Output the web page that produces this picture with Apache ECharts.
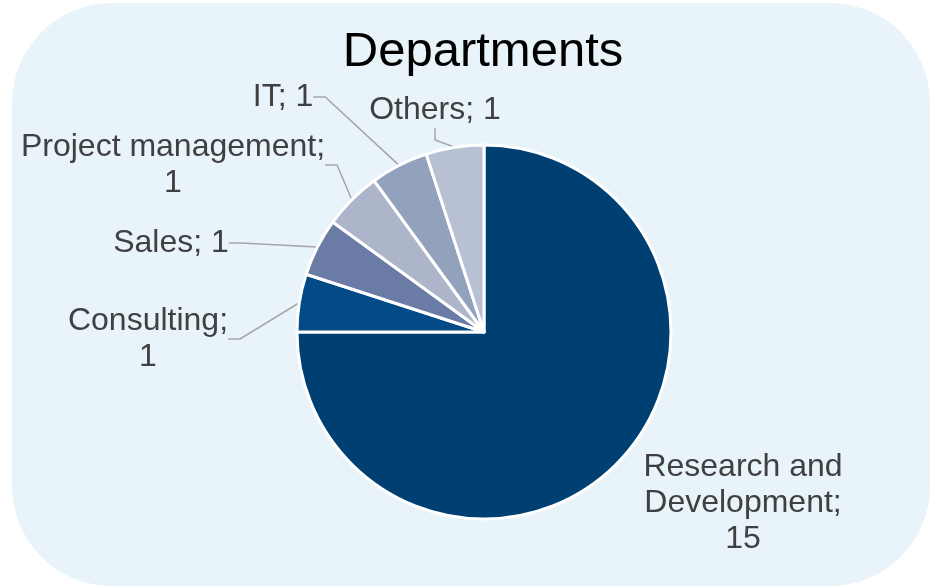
<!DOCTYPE html>
<html>
<head>
<meta charset="utf-8">
<script src="https://cdn.jsdelivr.net/npm/echarts@6/dist/echarts.min.js"></script>
<style>
  html, body { margin: 0; padding: 0; background: #ffffff; }
  #chart { width: 932px; height: 587px; }
</style>
</head>
<body>
<div id="chart"></div>
<script>
// Headcount by department
const departments = ['Research and Development', 'Consulting', 'Sales', 'Project management', 'IT', 'Others'];
const headcounts = [15, 1, 1, 1, 1, 1];
const sliceColors = ['#003f72', '#024b87', '#6a7ba6', '#adb5cb', '#93a2bc', '#b8c0d3'];

// How each label wraps: department name text and whether the value goes on its own line
const nameLines = ['Research and\nDevelopment', 'Consulting', 'Sales', 'Project management', 'IT', 'Others'];
const valueOnOwnLine = [true, true, false, true, false, false];

// Where each label sits (label centre, px)
const labelSpots = [
  [743, 503],
  [148, 339],
  [171, 243],
  [173, 165],
  [283, 97],
  [435, 110]
];

const chart = echarts.init(document.getElementById('chart'), null, { renderer: 'canvas' });

chart.setOption({
  backgroundColor: '#ffffff',
  animation: false,
  graphic: [{
    type: 'rect',
    z: -10,
    silent: true,
    shape: { x: 12, y: 3, width: 918, height: 583, r: 100 },
    style: { fill: '#e9f3fa' }
  }],
  title: {
    text: 'Departments',
    left: 478,
    textAlign: 'center',
    top: 23,
    textStyle: {
      fontFamily: 'Liberation Sans, Arial, sans-serif',
      fontSize: 49,
      fontWeight: 'normal',
      color: '#000000'
    }
  },
  series: [{
    type: 'pie',
    center: [484, 332],
    radius: [0, 187],
    startAngle: 90,
    clockwise: true,
    avoidLabelOverlap: false,
    itemStyle: { borderColor: '#ffffff', borderWidth: 3 },
    label: {
      show: true,
      position: 'outside',
      fontFamily: 'Liberation Sans, Arial, sans-serif',
      fontSize: 32,
      lineHeight: 36,
      color: '#404040',
      align: 'center',
      formatter: p => nameLines[p.dataIndex] + ';' + (valueOnOwnLine[p.dataIndex] ? '\n' : ' ') + p.value
    },
    labelLine: {
      show: true,
      length: 15,
      length2: 12,
      lineStyle: { color: '#a6a6a6', width: 1.5 }
    },
    labelLayout: p => ({
      x: labelSpots[p.dataIndex][0],
      y: labelSpots[p.dataIndex][1],
      align: 'center',
      verticalAlign: 'middle'
    }),
    data: departments.map((name, i) => ({
      name: name,
      value: headcounts[i],
      itemStyle: { color: sliceColors[i] },
      labelLine: { show: i !== 0 }
    }))
  }]
});
</script>
</body>
</html>
